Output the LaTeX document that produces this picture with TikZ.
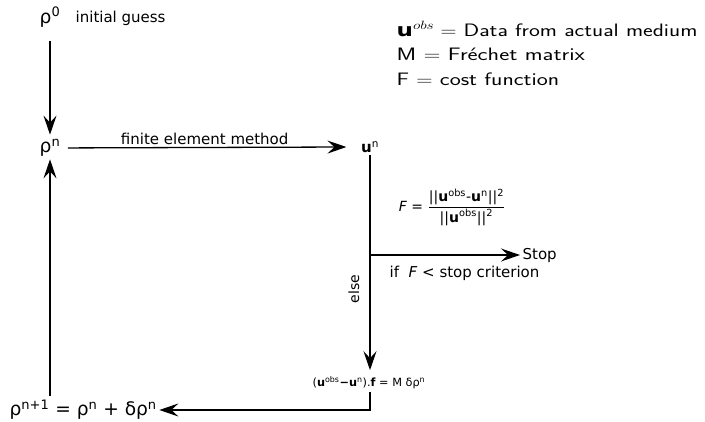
\documentclass[tikz,border=0pt]{standalone}
\usepackage{amsmath}
\usepackage{graphicx}
\usepackage{fontspec}
\setmainfont{DejaVu Sans}
\usetikzlibrary{arrows.meta,positioning}

\newcommand{\legline}[2][1.33]{\scalebox{#1}[1]{#2}}

\tikzset{
  rholab/.style={font=\fontsize{18.6}{22}\selectfont, inner sep=2pt},
  steplab/.style={font=\fontsize{15}{18}\selectfont, inner sep=2pt},
  smalllab/.style={font=\fontsize{11.3}{14}\selectfont, inner sep=2pt},
  legend/.style={font=\sffamily\fontsize{18}{24.7}\selectfont, align=left, inner sep=0pt}
}

\begin{document}
\begin{tikzpicture}[x=1pt, y=-1pt, >={Stealth[length=19pt,width=13pt,inset=7pt]}, line width=1.3pt]
    \useasboundingbox (0,0) rectangle (705,422);
    % legend
    \node[legend, anchor=north west] (leg) at (396,21)
      {\legline[1.28]{$\mathbf{u}^{obs}=$ Data from actual medium}\\
       \legline{M $=$ Fréchet matrix}\\
       \legline[1.3]{F $=$ cost function}};

    \node[rholab] (r0) at (50,17) {ρ\textsuperscript{0}};
    \node[steplab, anchor=west] (guess) at (73,18) {initial guess};
    \node[rholab] (rn) at (50,148) {ρ\textsuperscript{n}};
    \node[steplab] (un) at (370,147) {\textbf{u}\textsuperscript{n}};
    \node[steplab, font=\fontsize{14}{17}\selectfont] (cost) at (452,207)
      {\textit{F} = $\dfrac{\text{||\textbf{u}\textsuperscript{obs}-\textbf{u}\textsuperscript{n}||\textsuperscript{2}}}{\text{||\textbf{u}\textsuperscript{obs}||\textsuperscript{2}}}$};
    \coordinate (split) at (370,255);
    \node[steplab, anchor=west] (stop) at (520,255) {Stop};
    \node[steplab, anchor=west] (crit) at (387,273) {if \ \textit{F} < stop criterion};
    \node[steplab, font=\fontsize{14}{17}\selectfont, rotate=90] (else) at (354,289) {else};
    \node[smalllab, anchor=west] (upd) at (310,383)
      {(\textbf{u}\textsuperscript{obs}\textbf{−u}\textsuperscript{n}).\textbf{f} = M δρ\textsuperscript{n}};
    \node[rholab, anchor=west] (rnext) at (7,410) {ρ\textsuperscript{n+1} = ρ\textsuperscript{n} + δρ\textsuperscript{n}};

    \draw[->, shorten <=11pt, shorten >=2pt] (r0) -- (rn);
    \draw[->, shorten <=5pt] (rn) -- node[steplab, above] {finite element method} ([xshift=-12pt]un.west);
    \draw (un) -- (split);
    \draw[->, shorten >=4pt] (split) -- (upd.north -| split);
    \draw[->] (split) -- (stop);
    \draw[->] (upd.south -| split) |- (rnext);
    \draw[->, shorten <=2pt] (rnext.north -| rn) -- (rn);
  \end{tikzpicture}
\end{document}
